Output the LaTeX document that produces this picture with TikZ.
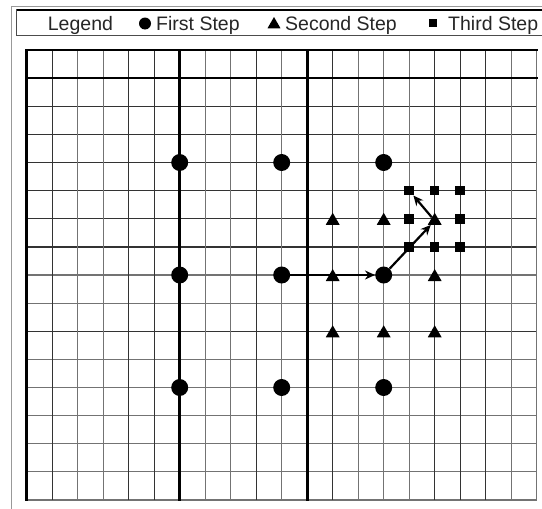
\documentclass[tikz,border=0pt]{standalone}
\usepackage{fontspec}
\setmainfont{Liberation Sans}
\usetikzlibrary{arrows.meta,shapes.geometric}
\tikzset{
  thk/.style={black, line width=2.6pt, line cap=rect},
  blk/.style={black!80, line width=1.25pt},
  gry/.style={black!55, line width=1.15pt},
  dotm/.style={circle, fill=black, draw=none, inner sep=0pt, minimum size=17pt},
  trim/.style={regular polygon, regular polygon sides=3, fill=black, draw=none, inner sep=0pt, minimum size=16pt, yshift=-2pt},
  sqm/.style={rectangle, fill=black, draw=none, inner sep=0pt, minimum size=9.5pt},
  arr/.style={black, line width=2.2pt, -{Stealth[length=10pt,width=9pt]}},
  legtext/.style={anchor=base west, inner sep=0pt, text=black!85, font=\fontsize{19.5}{22}\selectfont}
}
\begin{document}
\begin{tikzpicture}[x=1pt,y=-1pt]
\useasboundingbox (0,0) rectangle (542,509);
\fill[white] (0,0) rectangle (542,509);
\clip (0,0) rectangle (542,509);
% outer frame
\draw[black!40, line width=1pt] (11,6) rectangle (560,530);
% legend box
\draw[black!70, line width=1.2pt] (16.7,10) rectangle (560,35.5);
\draw[black, line width=2pt] (16.7,10) -- (560,10);
\node[legtext] (lg) at (47.7,30.7) {Legend};
\node[dotm, minimum size=12pt] (l1m) at (145,23.5) {};
\node[legtext] (l1) at (156,30.7) {First Step};
\node[trim, minimum size=15pt, yshift=1pt] (l2m) at (274,23.5) {};
\node[legtext] (l2) at (285,30.7) {Second Step};
\node[sqm, minimum size=8pt] (l3m) at (433,23.3) {};
\node[legtext] (l3) at (448,30.7) {Third Step};
% grid
\begin{scope}[shift={(26.7pt,-50pt)}, x=25.5pt, y=-28.125pt]
  \foreach \j/\s in {2/blk,3/blk,4/blk,5/blk,6/blk,7/blk,8/gry,9/gry,10/blk,11/gry,12/gry,13/gry,14/gry,15/gry,16/gry}
    \draw[\s] (0,\j) -- (20,\j);
  \foreach \i/\s in {1/blk,2/gry,3/gry,4/blk,5/blk,7/gry,8/gry,9/blk,10/gry,12/blk,13/gry,14/gry,15/gry,16/blk,17/blk,18/blk,19/gry,20/gry}
    \draw[\s] (\i,0) -- (\i,16);
  \foreach \i in {0,6,11}
    \draw[thk] (\i,0) -- (\i,16);
  \foreach \j in {0,1}
    \draw[thk] (0,\j) -- (20,\j);
  % first step
  \foreach \i in {6,10,14}
    \foreach \j in {4,8,12}
      \node[dotm] (c\i-\j) at (\i,\j) {};
  % second step
  \foreach \i/\j in {12/6,14/6,16/6,12/8,16/8,12/10,14/10,16/10}
    \node[trim] (t\i-\j) at (\i,\j) {};
  % third step
  \foreach \i/\j in {15/5,16/5,17/5,15/6,17/6,15/7,16/7,17/7}
    \node[sqm] (s\i-\j) at (\i,\j) {};
  % arrows
  \draw[arr] (c10-8) -- (c14-8);
  \draw[arr] (c14-8) -- (t16-6);
  \draw[arr] (t16-6) -- (s15-5);
\end{scope}
\end{tikzpicture}
\end{document}
